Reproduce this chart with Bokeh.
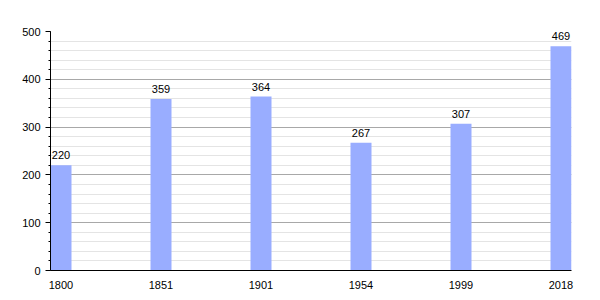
from bokeh.plotting import figure
from bokeh.models import ColumnDataSource, Range1d, FixedTicker, SingleIntervalTicker, LabelSet
from bokeh.core.properties import value
from bokeh.embed import file_html
from bokeh.resources import INLINE

years = ["1800", "1851", "1901", "1954", "1999", "2018"]
population = [220, 359, 364, 267, 307, 469]

bar_w = 0.21
xs = [i + bar_w / 2 for i in range(len(years))]
src = ColumnDataSource(dict(x=xs, top=population, label=[str(v) for v in population]))

p = figure(width=600, height=300, output_backend="svg", toolbar_location=None,
           x_range=Range1d(0, len(years) - 1 + bar_w), y_range=Range1d(0, 500),
           min_border_left=50, min_border_right=29, min_border_top=31, min_border_bottom=30)
p.outline_line_color = None
p.background_fill_color = "white"

p.vbar(x="x", top="top", width=bar_w, source=src, fill_color="#99adff", line_color=None)

labels = LabelSet(x="x", y="top", text="label", source=src, text_align="center",
                  text_baseline="alphabetic", y_offset=6, text_font_size=value("11px"),
                  text_font=value("Liberation Sans"), text_color=value("black"))
p.add_layout(labels)

# x axis
p.xaxis.ticker = FixedTicker(ticks=xs)
p.xaxis.major_label_overrides = {x: y for x, y in zip(xs, years)}
p.xaxis.major_tick_line_color = None
p.xaxis.minor_tick_line_color = None
p.xaxis.axis_line_color = "black"
p.xaxis.major_label_text_font = "Liberation Sans"
p.xaxis.major_label_text_font_size = "11px"
p.xaxis.major_label_text_color = "black"
p.xaxis.major_label_standoff = 4
p.xgrid.grid_line_color = None

# y axis
p.yaxis.ticker = SingleIntervalTicker(interval=100, num_minor_ticks=5)
p.yaxis.major_tick_out = 5
p.yaxis.major_tick_in = 0
p.yaxis.minor_tick_out = 2
p.yaxis.minor_tick_in = 0
p.yaxis.axis_line_color = "black"
p.yaxis.major_tick_line_color = "black"
p.yaxis.minor_tick_line_color = "black"
p.yaxis.major_label_text_font = "Liberation Sans"
p.yaxis.major_label_text_font_size = "11px"
p.yaxis.major_label_text_color = "black"
p.yaxis.major_label_standoff = 5
p.ygrid.grid_line_color = "#a8a8a8"
p.ygrid.minor_grid_line_color = "#e4e4e4"
p.ygrid.level = "underlay"

open("out.html", "w").write(file_html(p, INLINE))
